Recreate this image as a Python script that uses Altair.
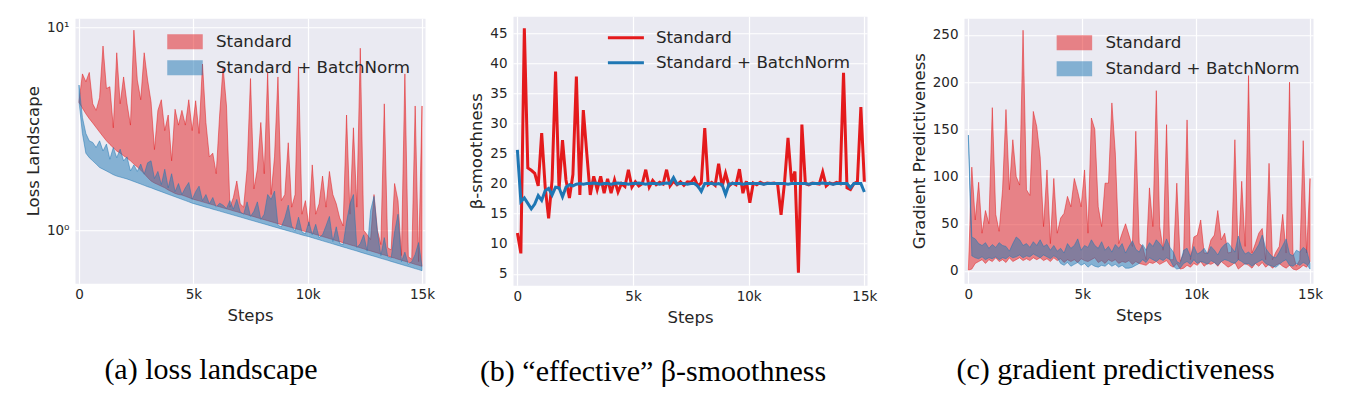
import altair as alt
import pandas as pd

# ---------------- data ----------------
STEPS = list(range(0, 15001, 150))
SERIES = ["Standard", "Standard + BatchNorm"]
COLORS = ["#E41A1C", "#1F77B4"]
X_TICKS = [0, 5000, 10000, 15000]

# (a) loss landscape: band (min / max) per series
LOSS_STD_LO = [
    4.27, 4.0, 3.75, 3.55, 3.38, 3.21, 3.05, 2.9, 2.76, 2.65,
    2.55, 2.46, 2.4, 2.33, 2.27, 2.2, 2.12, 2.05, 1.98, 1.9,
    1.82, 1.75, 1.71, 1.68, 1.65, 1.62, 1.58, 1.55, 1.52, 1.5,
    1.492, 1.471, 1.45, 1.428, 1.412, 1.397, 1.381, 1.365, 1.35, 1.335,
    1.32, 1.305, 1.29, 1.276, 1.262, 1.247, 1.234, 1.22, 1.206, 1.193,
    1.179, 1.167, 1.153, 1.14, 1.128, 1.115, 1.103, 1.09, 1.078, 1.066,
    1.054, 1.043, 1.031, 1.02, 1.008, 0.996, 0.986, 0.977, 0.965, 0.953,
    0.943, 0.931, 0.921, 0.91, 0.9, 0.889, 0.879, 0.868, 0.859, 0.848,
    0.839, 0.83, 0.819, 0.81, 0.8, 0.791, 0.782, 0.773, 0.763, 0.755,
    0.747, 0.737, 0.729, 0.72, 0.712, 0.704, 0.696, 0.688, 0.679, 0.672,
    0.664]
LOSS_STD_HI = [
    4.3, 5.9, 5.4, 6.0, 4.2, 3.9, 4.5, 8.1, 5.0, 5.1,
    3.2, 7.5, 4.2, 5.7, 4.2, 3.3, 9.7, 5.5, 4.4, 7.5,
    5.5, 4.3, 2.5, 3.9, 4.4, 3.1, 3.7, 2.2, 3.95, 3.3,
    3.9, 3.3, 4.4, 3.1, 4.35, 3.0, 6.6, 3.4, 2.3, 2.4,
    1.9, 3.7, 6.4, 4.1, 1.3, 1.45, 1.75, 1.35, 1.3, 2.0,
    5.6, 1.6, 2.0, 3.4, 1.9, 6.0, 1.5, 2.3, 5.7, 1.4,
    1.5, 2.7, 1.3, 1.5, 6.4, 1.2, 1.4, 1.05, 2.1, 1.2,
    1.35, 1.85, 1.3, 1.95, 1.5, 1.35, 1.15, 1.05, 3.7, 1.2,
    3.2, 1.3, 7.9, 1.0, 0.95, 0.9, 1.5, 1.0, 0.85, 4.2,
    0.82, 0.8, 1.7, 1.4, 0.75, 5.9, 0.74, 0.72, 4.1, 0.7,
    4.1]
LOSS_BN_LO = [
    4.3, 3.0, 2.4, 2.28, 2.2, 2.12, 2.04, 2.0, 1.96, 1.92,
    1.88, 1.85, 1.83, 1.81, 1.79, 1.765, 1.74, 1.715, 1.69, 1.665,
    1.64, 1.62, 1.595, 1.572, 1.55, 1.527, 1.505, 1.484, 1.463, 1.442,
    1.421, 1.401, 1.381, 1.36, 1.345, 1.33, 1.315, 1.3, 1.286, 1.271,
    1.257, 1.243, 1.229, 1.215, 1.202, 1.188, 1.175, 1.162, 1.149, 1.136,
    1.123, 1.111, 1.098, 1.086, 1.074, 1.062, 1.05, 1.038, 1.027, 1.015,
    1.004, 0.993, 0.982, 0.971, 0.96, 0.949, 0.939, 0.93, 0.919, 0.908,
    0.898, 0.887, 0.877, 0.867, 0.857, 0.847, 0.837, 0.827, 0.818, 0.808,
    0.799, 0.79, 0.78, 0.771, 0.762, 0.753, 0.745, 0.736, 0.727, 0.719,
    0.711, 0.702, 0.694, 0.686, 0.678, 0.67, 0.663, 0.655, 0.647, 0.64,
    0.632]
LOSS_BN_HI = [
    5.2, 3.6, 3.0, 2.76, 2.71, 2.56, 2.76, 2.46, 2.66, 2.24,
    2.56, 2.28, 2.51, 2.2, 2.3, 1.96, 2.1, 1.95, 2.12, 1.89,
    2.15, 2.2, 1.8, 1.95, 1.68, 2.0, 1.62, 1.9, 1.55, 1.7,
    1.5, 1.62, 1.72, 1.42, 1.55, 1.65, 1.4, 1.5, 1.35, 1.45,
    1.3, 1.36, 1.33, 1.28, 1.4, 1.27, 1.42, 1.23, 1.2, 1.38,
    1.17, 1.24, 1.38, 1.13, 1.2, 1.5, 1.42, 1.56, 1.06, 1.04,
    1.15, 1.33, 1.05, 0.99, 1.16, 0.98, 0.96, 1.1, 0.95, 1.07,
    0.92, 0.95, 1.05, 1.17, 0.88, 1.04, 0.86, 0.85, 1.1, 1.35,
    1.5, 0.82, 0.86, 0.95, 0.79, 1.25, 1.47, 0.98, 0.75, 0.92,
    0.74, 0.73, 0.98, 1.2, 0.7, 0.78, 0.68, 0.7, 0.76, 0.87,
    0.66]

# (b) effective beta-smoothness
BETA_STD = [
    11.8, 8.4, 45.8, 22.6, 22.2, 21.7, 19.6, 28.4, 19.5, 14.2,
    20.6, 38.6, 19.0, 27.2, 20.6, 17.6, 21.5, 37.8, 18.1, 32.2,
    25.0, 18.1, 21.2, 19.0, 21.2, 18.4, 20.8, 18.4, 20.6, 18.6,
    20.0, 19.5, 22.3, 19.4, 20.3, 19.6, 20.0, 22.3, 19.4, 20.5,
    19.8, 20.2, 19.9, 22.3, 19.6, 20.4, 19.8, 20.3, 19.7, 20.3,
    20.2, 20.9, 19.6, 20.1, 29.2, 19.8, 20.2, 19.7, 23.3, 19.5,
    21.7, 19.6, 20.1, 19.8, 22.4, 18.4, 20.4, 16.8, 20.1, 19.8,
    20.2, 19.9, 20.1, 20.0, 20.1, 19.9, 14.8, 20.2, 27.6, 20.3,
    22.0, 5.2, 29.8, 20.0, 19.8, 20.1, 20.0, 19.9, 21.9, 19.6,
    20.1, 19.9, 20.2, 20.0, 38.4, 19.3, 19.0, 20.0, 20.3, 32.7,
    20.3]
BETA_BN = [
    25.6, 17.0, 17.6, 16.7, 15.8, 16.6, 18.0, 17.2, 18.8, 19.2,
    18.1, 19.4, 19.3, 17.8, 19.4, 19.8, 19.6, 19.9, 20.0, 19.9,
    20.0, 20.0, 20.1, 20.0, 19.9, 20.0, 20.0, 19.9, 20.0, 20.1,
    20.0, 20.0, 19.9, 20.0, 20.0, 20.1, 20.0, 19.9, 20.0, 20.0,
    20.0, 19.9, 20.0, 20.1, 20.0, 21.0, 19.9, 20.0, 20.0, 19.9,
    20.0, 20.0, 19.6, 18.7, 20.0, 20.0, 20.0, 19.9, 20.0, 19.8,
    18.2, 19.9, 20.0, 20.0, 20.0, 19.9, 20.0, 20.0, 20.0, 20.0,
    20.0, 19.9, 20.0, 20.0, 20.0, 20.0, 20.0, 20.0, 19.9, 20.0,
    20.0, 20.0, 20.0, 20.0, 19.9, 20.0, 20.0, 20.0, 20.1, 20.0,
    20.0, 19.9, 20.0, 20.0, 20.0, 20.0, 19.3, 20.0, 20.0, 20.0,
    18.6]

# (c) gradient predictiveness: band (min / max) per series
GRAD_STD_LO = [
    1, 2, 8, 10, 12, 8, 12, 10, 14, 10,
    12, 9, 14, 10, 12, 14, 11, 13, 11, 14,
    12, 14, 11, 13, 10, 14, 11, 13, 9, 12,
    10, 12, 9, 13, 11, 10, 12, 14, 9, 11,
    8, 12, 10, 12, 8, 10, 9, 11, 7, 10,
    8, 7, 6, 9, 8, 10, 7, 9, 11, 6,
    4, 8, 2, 3, 6, 4, 8, 6, 10, 5,
    8, 7, 9, 5, 10, 7, 4, 6, 9, 2,
    5, 8, 6, 3, 8, 5, 9, 4, 7, 3,
    6, 8, 5, 3, 6, 2, 1, 3, 6, 4,
    10]
GRAD_STD_HI = [
    2, 110, 54, 94, 40, 64, 50, 173, 60, 42,
    86, 171, 86, 139, 100, 91, 255, 86, 80, 169,
    153, 121, 47, 107, 29, 98, 40, 56, 61, 79,
    68, 98, 84, 68, 107, 40, 162, 150, 68, 47,
    93, 93, 178, 125, 29, 40, 50, 38, 26, 148,
    29, 26, 12, 88, 47, 191, 47, 22, 155, 12,
    12, 93, 10, 19, 160, 12, 36, 38, 54, 19,
    19, 33, 38, 64, 33, 40, 19, 20, 139, 12,
    95, 26, 207, 19, 29, 40, 45, 12, 114, 12,
    20, 26, 60, 19, 200, 19, 5, 12, 138, 19,
    98]
GRAD_BN_LO = [
    140, 16, 14, 13, 15, 12, 14, 13, 15, 12,
    14, 13, 16, 14, 15, 17, 14, 16, 15, 18,
    16, 14, 17, 15, 13, 16, 14, 8, 6, 9,
    5, 7, 9, 6, 8, 4, 7, 5, 4, 6,
    5, 8, 5, 7, 4, 6, 3, 3, 4, 6,
    8, 12, 9, 14, 12, 10, 13, 11, 14, 12,
    5, 2, 3, 8, 10, 7, 12, 8, 10, 9,
    7, 11, 9, 6, 10, 12, 11, 9, 8, 12,
    10, 7, 8, 5, 8, 10, 12, 8, 6, 5,
    4, 7, 10, 12, 6, 5, 8, 6, 9, 7,
    2]
GRAD_BN_HI = [
    144, 36, 34, 29, 27, 30, 24, 28, 25, 30,
    27, 26, 21, 29, 36, 33, 27, 29, 25, 31,
    27, 33, 26, 28, 22, 27, 21, 24, 19, 29,
    24, 27, 34, 22, 27, 25, 33, 27, 24, 31,
    22, 26, 20, 28, 24, 29, 19, 26, 32, 23,
    20, 28, 22, 30, 26, 33, 29, 24, 34, 25,
    20, 10, 8, 22, 24, 15, 26, 18, 20, 24,
    18, 26, 22, 17, 24, 28, 30, 25, 20, 37,
    24, 18, 20, 17, 22, 28, 38, 24, 19, 15,
    14, 20, 27, 34, 18, 16, 22, 20, 25, 22,
    8]

CAPTIONS = ["(a) loss landscape", "(b) \u201ceffective\u201d \u03b2-smoothness",
            "(c) gradient predictiveness"]

# ---------------- helpers ----------------
BG = "#EAEAF2"
TXT = "#262626"
PATCH = "M-2,-0.8H2V0.8H-2Z"
STROKE_SYM = "M-2,0H2"
CSCALE = alt.Scale(domain=SERIES, range=COLORS)


def band_df(lo_s, hi_s, lo_b, hi_b):
    rows = []
    for name, lo, hi in ((SERIES[0], lo_s, hi_s), (SERIES[1], lo_b, hi_b)):
        for st, l, h in zip(STEPS, lo, hi):
            rows.append({"step": st, "lo": l, "hi": h, "series": name})
    return pd.DataFrame(rows)


def line_df(v_s, v_b):
    rows = []
    for name, vals in ((SERIES[0], v_s), (SERIES[1], v_b)):
        for st, v in zip(STEPS, vals):
            rows.append({"step": st, "v": v, "series": name})
    return pd.DataFrame(rows)


def x_enc(domain):
    return alt.X("step:Q", scale=alt.Scale(domain=domain, nice=False, zero=False),
                 axis=alt.Axis(values=X_TICKS, title="Steps",
                               labelExpr="datum.value == 0 ? '0' : format(datum.value / 1000, 'd') + 'k'"))


def caption(text, dx):
    return alt.TitleParams(text=text, orient="bottom", anchor="middle", frame="group",
                           font="Liberation Serif", fontSize=30, fontWeight="normal",
                           color="black", offset=31, dx=dx)


def legend(lx, ly, sym, size, sw, opacity, loff=21.5):
    return alt.Legend(title=None, orient="none", legendX=lx, legendY=ly, symbolType=sym,
                      symbolSize=size, symbolStrokeWidth=sw, symbolOpacity=opacity,
                      labelFontSize=16.7, labelFont="DejaVu Sans", labelColor=TXT,
                      labelLimit=0, labelOffset=loff, rowPadding=5, padding=0)


def band_panel(df, xdom, y_scale, y_axis, leg, w, h, cap, dx):
    layers = []
    for name in SERIES:
        layers.append(
            alt.Chart(df).transform_filter(alt.datum.series == name)
            .mark_area(fillOpacity=0.5, strokeOpacity=0.5, strokeWidth=1)
            .encode(x=x_enc(xdom),
                    y=alt.Y("lo:Q", scale=y_scale, axis=y_axis),
                    y2="hi:Q",
                    color=alt.Color("series:N", scale=CSCALE, legend=leg),
                    stroke=alt.Stroke("series:N", scale=CSCALE, legend=leg))
        )
    return alt.layer(*layers).properties(width=w, height=h, title=caption(cap, dx))


# (a)
df_a = band_df(LOSS_STD_LO, LOSS_STD_HI, LOSS_BN_LO, LOSS_BN_HI)
panel_a = band_panel(
    df_a, [-175, 15130],
    alt.Scale(type="log", domain=[0.548, 11.1], nice=False),
    alt.Axis(values=[1, 10], title="Loss Landscape",
             labelExpr="datum.value >= 10 ? '10\u00b9' : '10\u2070'"),
    legend(100.5, 14, PATCH, 289, 1.5, 0.5),
    350, 265, CAPTIONS[0], -39)

# (b)
df_b = line_df(BETA_STD, BETA_BN)
leg_b = legend(102.4, 11, STROKE_SYM, 324, 3, 1, loff=19.5)
layers_b = []
for name in SERIES:
    layers_b.append(
        alt.Chart(df_b).transform_filter(alt.datum.series == name)
        .mark_line(strokeWidth=3)
        .encode(x=x_enc([-190, 15115]),
                y=alt.Y("v:Q", scale=alt.Scale(domain=[3.1, 47.8], nice=False, zero=False),
                        axis=alt.Axis(values=[5, 10, 15, 20, 25, 30, 35, 40, 45],
                                      title="\u03b2-smoothness")),
                color=alt.Color("series:N", scale=CSCALE, legend=leg_b))
    )
panel_b = alt.layer(*layers_b).properties(width=354, height=269,
                                          title=caption(CAPTIONS[1], -37))

# (c)
df_c = band_df(GRAD_STD_LO, GRAD_STD_HI, GRAD_BN_LO, GRAD_BN_HI)
panel_c = band_panel(
    df_c, [-193, 15130],
    alt.Scale(domain=[-13, 267.7], nice=False, zero=False),
    alt.Axis(values=[0, 50, 100, 150, 200, 250], title="Gradient Predictiveness"),
    legend(100.9, 15, PATCH, 289, 1.5, 0.5),
    349, 265, CAPTIONS[2], -23)

chart = (
    alt.HConcatChart(hconcat=[panel_a, panel_b, panel_c], spacing=32, center=True)
    .resolve_scale(x="independent", y="independent", color="independent",
                   stroke="independent")
    .resolve_legend(color="independent", stroke="independent")
    .properties(padding={"left": 16, "top": 7, "right": 5, "bottom": 5},
                background="white")
    .configure_view(fill=BG, stroke="transparent")
    .configure_axis(grid=True, gridColor="white", gridWidth=1.2, domain=False, ticks=False,
                    labelFont="DejaVu Sans", titleFont="DejaVu Sans", labelFontSize=13.5,
                    titleFontSize=16.5, labelColor=TXT, titleColor=TXT,
                    titleFontWeight="normal", labelPadding=6)
    .configure_axisX(titlePadding=7, labelPadding=4)
    .configure_axisY(titlePadding=5)
)

chart.save("out.html", embed_options={"renderer": "svg", "actions": False})
